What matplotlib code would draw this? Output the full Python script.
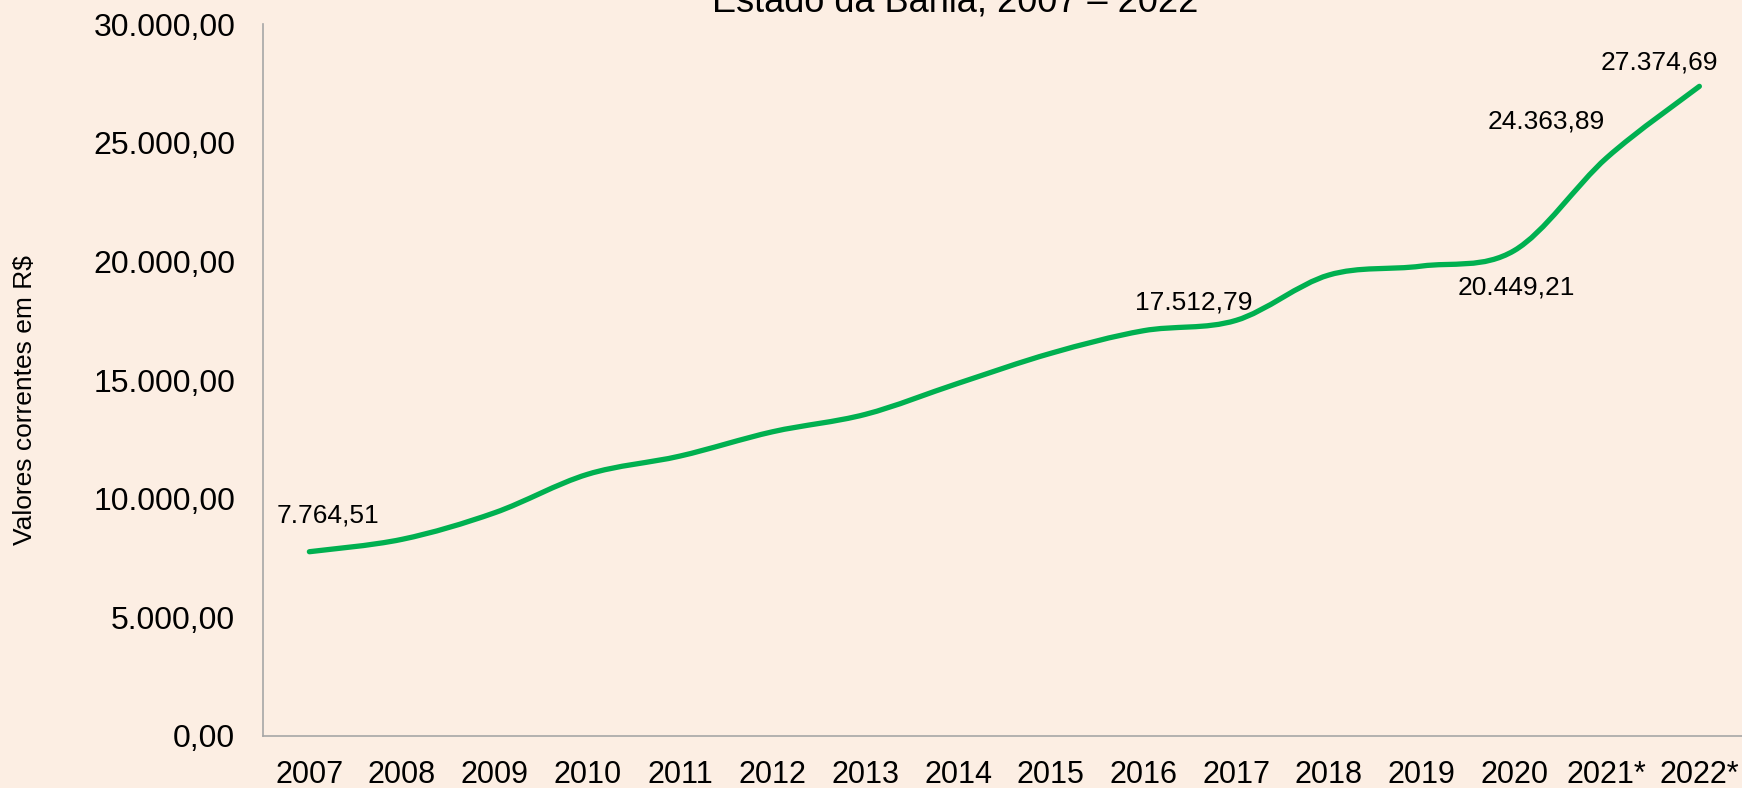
import matplotlib.pyplot as plt
import numpy as np
from matplotlib.path import Path
from matplotlib.patches import PathPatch

plt.rcParams['font.family'] = ['Liberation Sans', 'DejaVu Sans']

# PIB per capita, Estado da Bahia (valores correntes em R$)
years = ['2007', '2008', '2009', '2010', '2011', '2012', '2013', '2014',
         '2015', '2016', '2017', '2018', '2019', '2020', '2021*', '2022*']
values = [7764.51, 8287, 9408, 11025, 11796, 12821, 13553, 14860,
          16124, 17076, 17512.79, 19422, 19800, 20449.21, 24363.89, 27374.69]

# labels shown on the chart: (index, offset in pixels)
labelled = [(0, (19, 36)), (10, (-42, 18)), (13, (2, -37)),
            (14, (-60, 36)), (15, (-40, 24))]

BG = '#FCEEE3'
GREEN = '#00B050'
AXIS = '#A6A6A6'


def fmt_br(v):
    s = f'{v:,.2f}'
    return s.replace(',', 'X').replace('.', ',').replace('X', '.')


def smooth_path(x, y):
    # Excel-like smooth line: Catmull-Rom segments as cubic Beziers
    x = np.asarray(x, float)
    y = np.asarray(y, float)
    px = np.concatenate([[x[0]], x, [x[-1]]])
    py = np.concatenate([[y[0]], y, [y[-1]]])
    verts = [(x[0], y[0])]
    codes = [Path.MOVETO]
    for i in range(1, len(px) - 2):
        c1 = (px[i] + (px[i + 1] - px[i - 1]) / 6, py[i] + (py[i + 1] - py[i - 1]) / 6)
        c2 = (px[i + 1] - (px[i + 2] - px[i]) / 6, py[i + 1] - (py[i + 2] - py[i]) / 6)
        verts += [c1, c2, (px[i + 1], py[i + 1])]
        codes += [Path.CURVE4] * 3
    return Path(verts, codes)


fig = plt.figure(figsize=(17.42, 7.88), dpi=100, facecolor=BG)
ax = fig.add_axes([0.151, 0.066, 0.849, 0.9035], facecolor=BG)

xs = np.arange(len(years))
patch = PathPatch(smooth_path(xs, values), fill=False, edgecolor=GREEN,
                  lw=3.8, capstyle='round', joinstyle='round')
ax.add_patch(patch)

for i, (dx, dy) in labelled:
    ax.annotate(fmt_br(values[i]), (xs[i], values[i]), xytext=(dx, dy),
                textcoords='offset pixels', ha='center', va='center',
                fontsize=19, color='#000000')

ax.set_xlim(-0.5, 15.46)
ax.set_ylim(0, 30000)
ax.set_xticks(xs)
ax.set_xticklabels(years)
yt = np.arange(0, 30001, 5000)
ax.set_yticks(yt)
ax.set_yticklabels([fmt_br(v) for v in yt])
ax.tick_params(axis='y', length=0, pad=20, labelsize=23)
ax.tick_params(axis='x', length=0, pad=17, labelsize=22)

for s in ['top', 'right']:
    ax.spines[s].set_visible(False)
for s in ['left', 'bottom']:
    ax.spines[s].set_color(AXIS)
    ax.spines[s].set_linewidth(1.2)

fig.text(25 / 1742, 1 - 400 / 788, 'Valores correntes em R$', rotation=90,
         ha='center', va='center', fontsize=19)
fig.text(955 / 1742, 1 - 12 / 788, 'Estado da Bahia, 2007 \u2013 2022',
         ha='center', va='baseline', fontsize=26)

fig.savefig('out.png', dpi=100, facecolor=BG)
